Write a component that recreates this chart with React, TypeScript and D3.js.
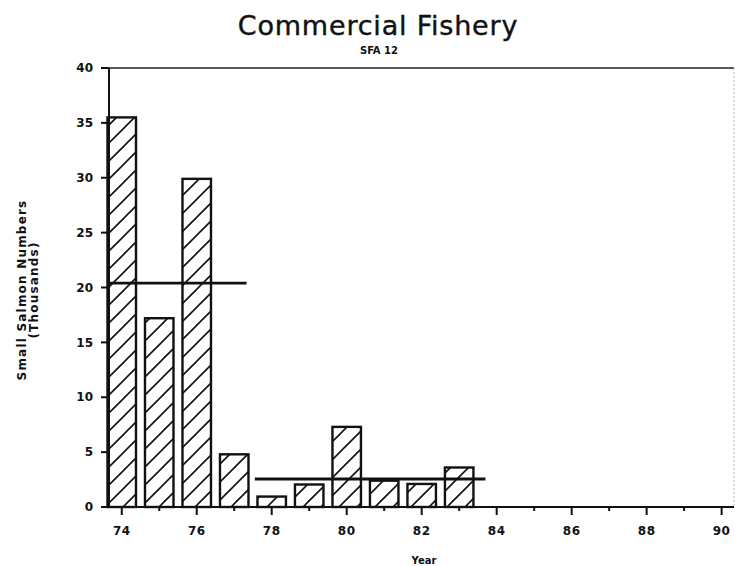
import React from "react";
import * as d3 from "d3";

const years = [74, 75, 76, 77, 78, 79, 80, 81, 82, 83];
const values = [35.5, 17.2, 29.9, 4.8, 0.95, 2.05, 7.3, 2.4, 2.1, 3.6];

const periodStart = [73.66, 77.55];
const periodEnd = [77.33, 83.7];
const periodMean = [20.4, 2.55];

const yTicks = [0, 5, 10, 15, 20, 25, 30, 35, 40];
const xMajorTicks = [74, 76, 78, 80, 82, 84, 86, 88, 90];
const xMinorTicks = [75, 77, 79, 81, 83, 85, 87, 89];

const W = 735;
const H = 566;
const left = 109;
const right = 734;
const top = 68;
const bottom = 507;

export default function App() {
  const x = d3.scaleLinear().domain([73.66, 90.33]).range([left, right]);
  const y = d3.scaleLinear().domain([0, 40]).range([bottom, top]);
  const halfW = 0.38;
  const font = "'DejaVu Sans', sans-serif";

  return (
    <svg
      width={W}
      height={H}
      style={{ position: "absolute", left: 0, top: 0, background: "#fff" }}
    >
      <defs>
        <pattern id="hatch" patternUnits="userSpaceOnUse" width={18} height={18}>
          <path
            d="M-4,4 L4,-4 M0,18 L18,0 M14,22 L22,14"
            stroke="#111"
            strokeWidth={1.6}
          />
        </pattern>
      </defs>
      <rect width={W} height={H} fill="#fff" />

      <text
        x={378}
        y={35}
        textAnchor="middle"
        fontFamily={font}
        fontSize={27}
        letterSpacing={0.8}
        stroke="#111"
        strokeWidth={0.4}
        fill="#111"
      >
        Commercial Fishery
      </text>
      <text
        x={379}
        y={54}
        textAnchor="middle"
        fontFamily={font}
        fontWeight="bold"
        fontSize={10}
        fill="#111"
      >
        SFA 12
      </text>

      {/* bars */}
      {years.map((yr, i) => (
        <rect
          key={yr}
          x={x(yr - halfW)}
          y={y(values[i])}
          width={x(yr + halfW) - x(yr - halfW)}
          height={y(0) - y(values[i])}
          fill="url(#hatch)"
          stroke="#111"
          strokeWidth={2.4}
        />
      ))}

      {/* period means */}
      {periodMean.map((m, i) => (
        <line
          key={i}
          x1={x(periodStart[i])}
          x2={x(periodEnd[i])}
          y1={y(m)}
          y2={y(m)}
          stroke="#111"
          strokeWidth={2.8}
        />
      ))}

      {/* frame */}
      <line x1={left} x2={left} y1={top} y2={bottom} stroke="#111" strokeWidth={2} />
      <line x1={left - 8} x2={right} y1={top} y2={top} stroke="#222" strokeWidth={1.6} />
      <line x1={left - 8} x2={right} y1={bottom} y2={bottom} stroke="#111" strokeWidth={2} />
      <line
        x1={right}
        x2={right}
        y1={top}
        y2={bottom}
        stroke="#bbb"
        strokeWidth={1}
        strokeDasharray="2,2"
      />

      {/* y ticks */}
      {yTicks.map((t) => (
        <g key={t}>
          <line x1={left - 8} x2={left} y1={y(t)} y2={y(t)} stroke="#111" strokeWidth={2} />
          <text
            x={93}
            y={y(t)}
            dy="0.35em"
            textAnchor="end"
            fontFamily={font}
            fontWeight="bold"
            fontSize={12}
            fill="#111"
          >
            {t}
          </text>
        </g>
      ))}

      {/* x ticks */}
      {xMajorTicks.map((t) => (
        <g key={t}>
          <line x1={x(t)} x2={x(t)} y1={bottom} y2={bottom + 8} stroke="#111" strokeWidth={2} />
          <text
            x={x(t)}
            y={535}
            textAnchor="middle"
            fontFamily={font}
            fontWeight="bold"
            fontSize={12}
            letterSpacing={0.5}
            fill="#111"
          >
            {t}
          </text>
        </g>
      ))}
      {xMinorTicks.map((t) => (
        <line key={t} x1={x(t)} x2={x(t)} y1={bottom} y2={bottom + 4} stroke="#111" strokeWidth={2} />
      ))}

      <text
        x={424}
        y={564}
        textAnchor="middle"
        fontFamily={font}
        fontWeight="bold"
        fontSize={10}
        fill="#111"
      >
        Year
      </text>

      <g transform="translate(0,290) rotate(-90)">
        <text
          x={0}
          y={26}
          textAnchor="middle"
          fontFamily={font}
          fontWeight="bold"
          fontSize={12}
          letterSpacing={1.2}
          fill="#111"
        >
          Small Salmon Numbers
        </text>
        <text
          x={0}
          y={38}
          textAnchor="middle"
          fontFamily={font}
          fontWeight="bold"
          fontSize={12}
          letterSpacing={1.2}
          fill="#111"
        >
          (Thousands)
        </text>
      </g>
    </svg>
  );
}
